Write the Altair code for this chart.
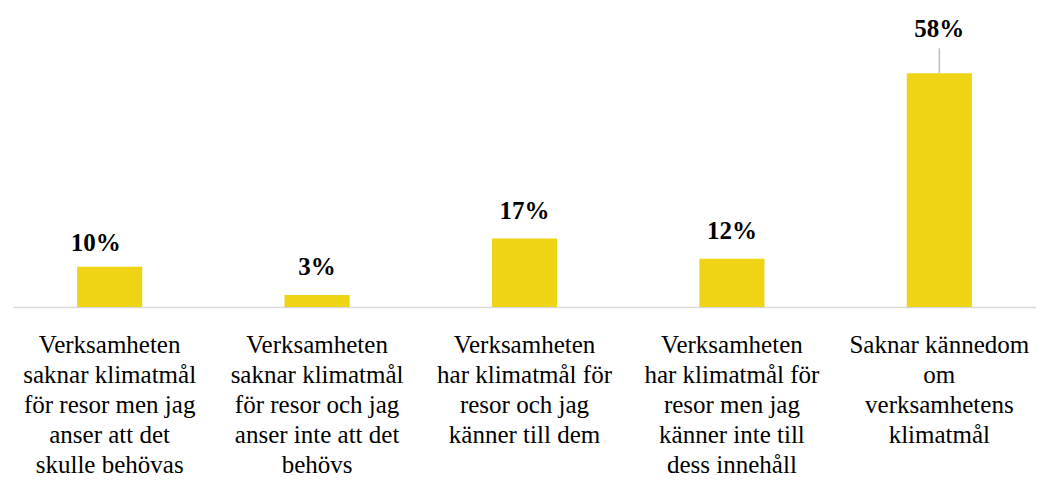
import altair as alt
import pandas as pd

categories = [
    "Verksamheten\nsaknar klimatmål\nför resor men jag\nanser att det\nskulle behövas",
    "Verksamheten\nsaknar klimatmål\nför resor och jag\nanser inte att det\nbehövs",
    "Verksamheten\nhar klimatmål för\nresor och jag\nkänner till dem",
    "Verksamheten\nhar klimatmål för\nresor men jag\nkänner inte till\ndess innehåll",
    "Saknar kännedom\nom\nverksamhetens\nklimatmål",
]
values = [10, 3, 17, 12, 58]
labels = ["10%", "3%", "17%", "12%", "58%"]

df = pd.DataFrame({"cat": categories, "value": values, "label": labels})

FONT = "'Liberation Serif', 'Times New Roman', serif"
YELLOW = "#EFD416"

x = alt.X(
    "cat:N",
    sort=categories,
    title=None,
    scale=alt.Scale(paddingInner=0.686, paddingOuter=0.309),
    axis=alt.Axis(
        labelExpr="split(datum.label, '\\n')",
        labelAngle=0,
        labelFont=FONT,
        labelFontSize=25,
        labelFontWeight="normal",
        labelLineHeight=30,
        labelColor="#000000",
        labelPadding=25,
        ticks=False,
        domainColor="#D9D9D9",
        domainWidth=1.5,
        labelLimit=0,
    ),
)
yscale = alt.Scale(domain=[0, 74.2], nice=False, zero=True)

bars = alt.Chart(df).mark_bar(color=YELLOW).encode(
    x=x,
    y=alt.Y("value:Q", scale=yscale, axis=None),
)

label_base = alt.Chart(df).transform_calculate(
    ly="datum.value > 50 ? datum.value + 8.9 : datum.value + 4.9"
)
text_props = dict(font=FONT, fontSize=25, fontWeight="bold", baseline="alphabetic", color="#000000")
enc = dict(
    x=x,
    y=alt.Y("ly:Q", scale=yscale, axis=None),
    text="label:N",
)

text_main = label_base.transform_filter("datum.label != '10%'").mark_text(**text_props).encode(**enc)
text_first = label_base.transform_filter("datum.label == '10%'").mark_text(dx=-14, dy=4, **text_props).encode(**enc)

leader = alt.Chart(df).transform_filter("datum.value > 50").transform_calculate(
    top="datum.value + 6.2"
).mark_rule(color="#BFBFBF", strokeWidth=1.5).encode(
    x=x,
    y=alt.Y("value:Q", scale=yscale, axis=None),
    y2="top:Q",
)

chart = alt.layer(bars, leader, text_main, text_first).properties(
    width=1023, height=299, padding={"left": 5, "top": 0, "right": 0, "bottom": 0}
).configure_view(stroke=None)

chart.save("out.html", embed_options={"renderer": "svg", "actions": False})
